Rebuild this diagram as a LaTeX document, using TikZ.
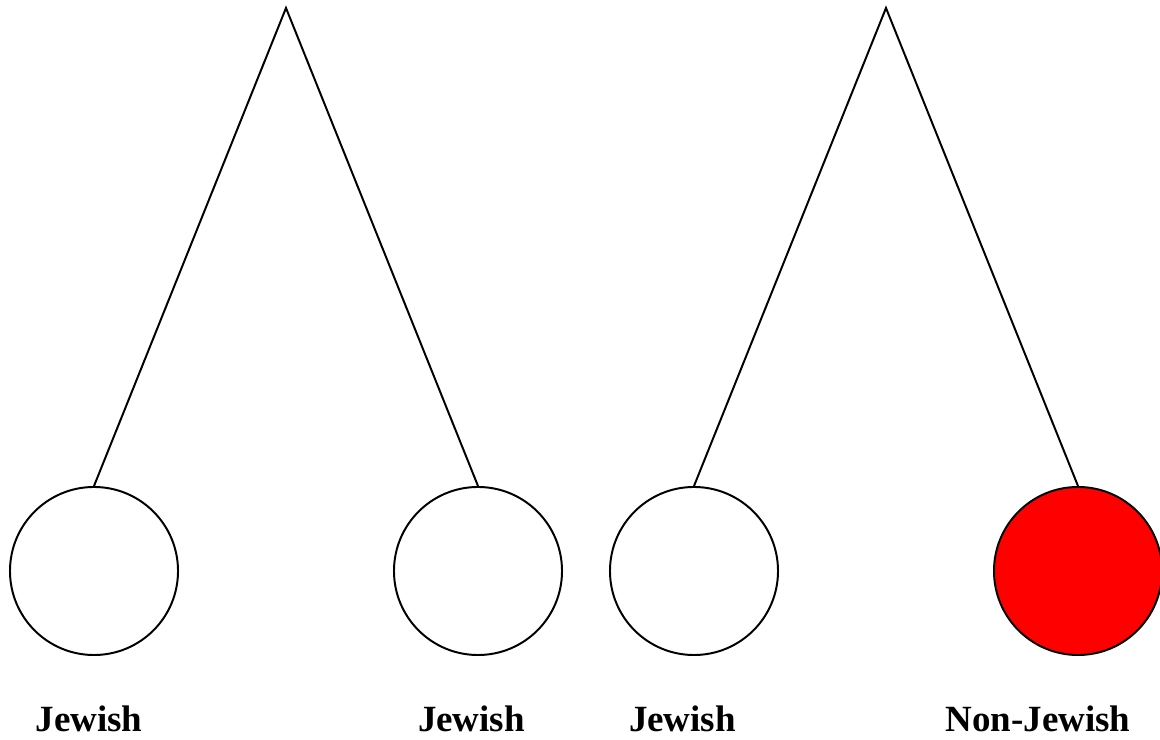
\documentclass[tikz,border=0pt]{standalone}
\usepackage{fontspec}
\setmainfont{Liberation Serif}
\usetikzlibrary{positioning}

\begin{document}
\begin{tikzpicture}[x=0.025cm, y=-0.025cm,
  person/.style={draw=black, circle, line width=1.4pt, fill=white,
    minimum size=4.2cm, inner sep=0pt},
  other/.style={person, fill=red},
  tag/.style={anchor=base, inner sep=0pt, font=\fontsize{26.3}{30}\selectfont\bfseries},
  link/.style={line width=1.4pt, black}
]
\useasboundingbox (0,0) rectangle (1160,740);

\coordinate (topA) at (286,8);
\coordinate (topB) at (886,8);

\node[person] (j1) at ( 94,571) {};
\node[person] (j2) at (478,571) {};
\node[person] (j3) at (694,571) {};
\node[other]  (nj) at (1078,571) {};

\draw[link] (j1.north) -- (topA) -- (j2.north);
\draw[link] (j3.north) -- (topB) -- (nj.north);

\node[tag] at (  89,732) {Jewish};
\node[tag] at (471.5,732) {Jewish};
\node[tag] at (682.5,732) {Jewish};
\node[tag] at (1038,732) {Non-Jewish};
\end{tikzpicture}
\end{document}
